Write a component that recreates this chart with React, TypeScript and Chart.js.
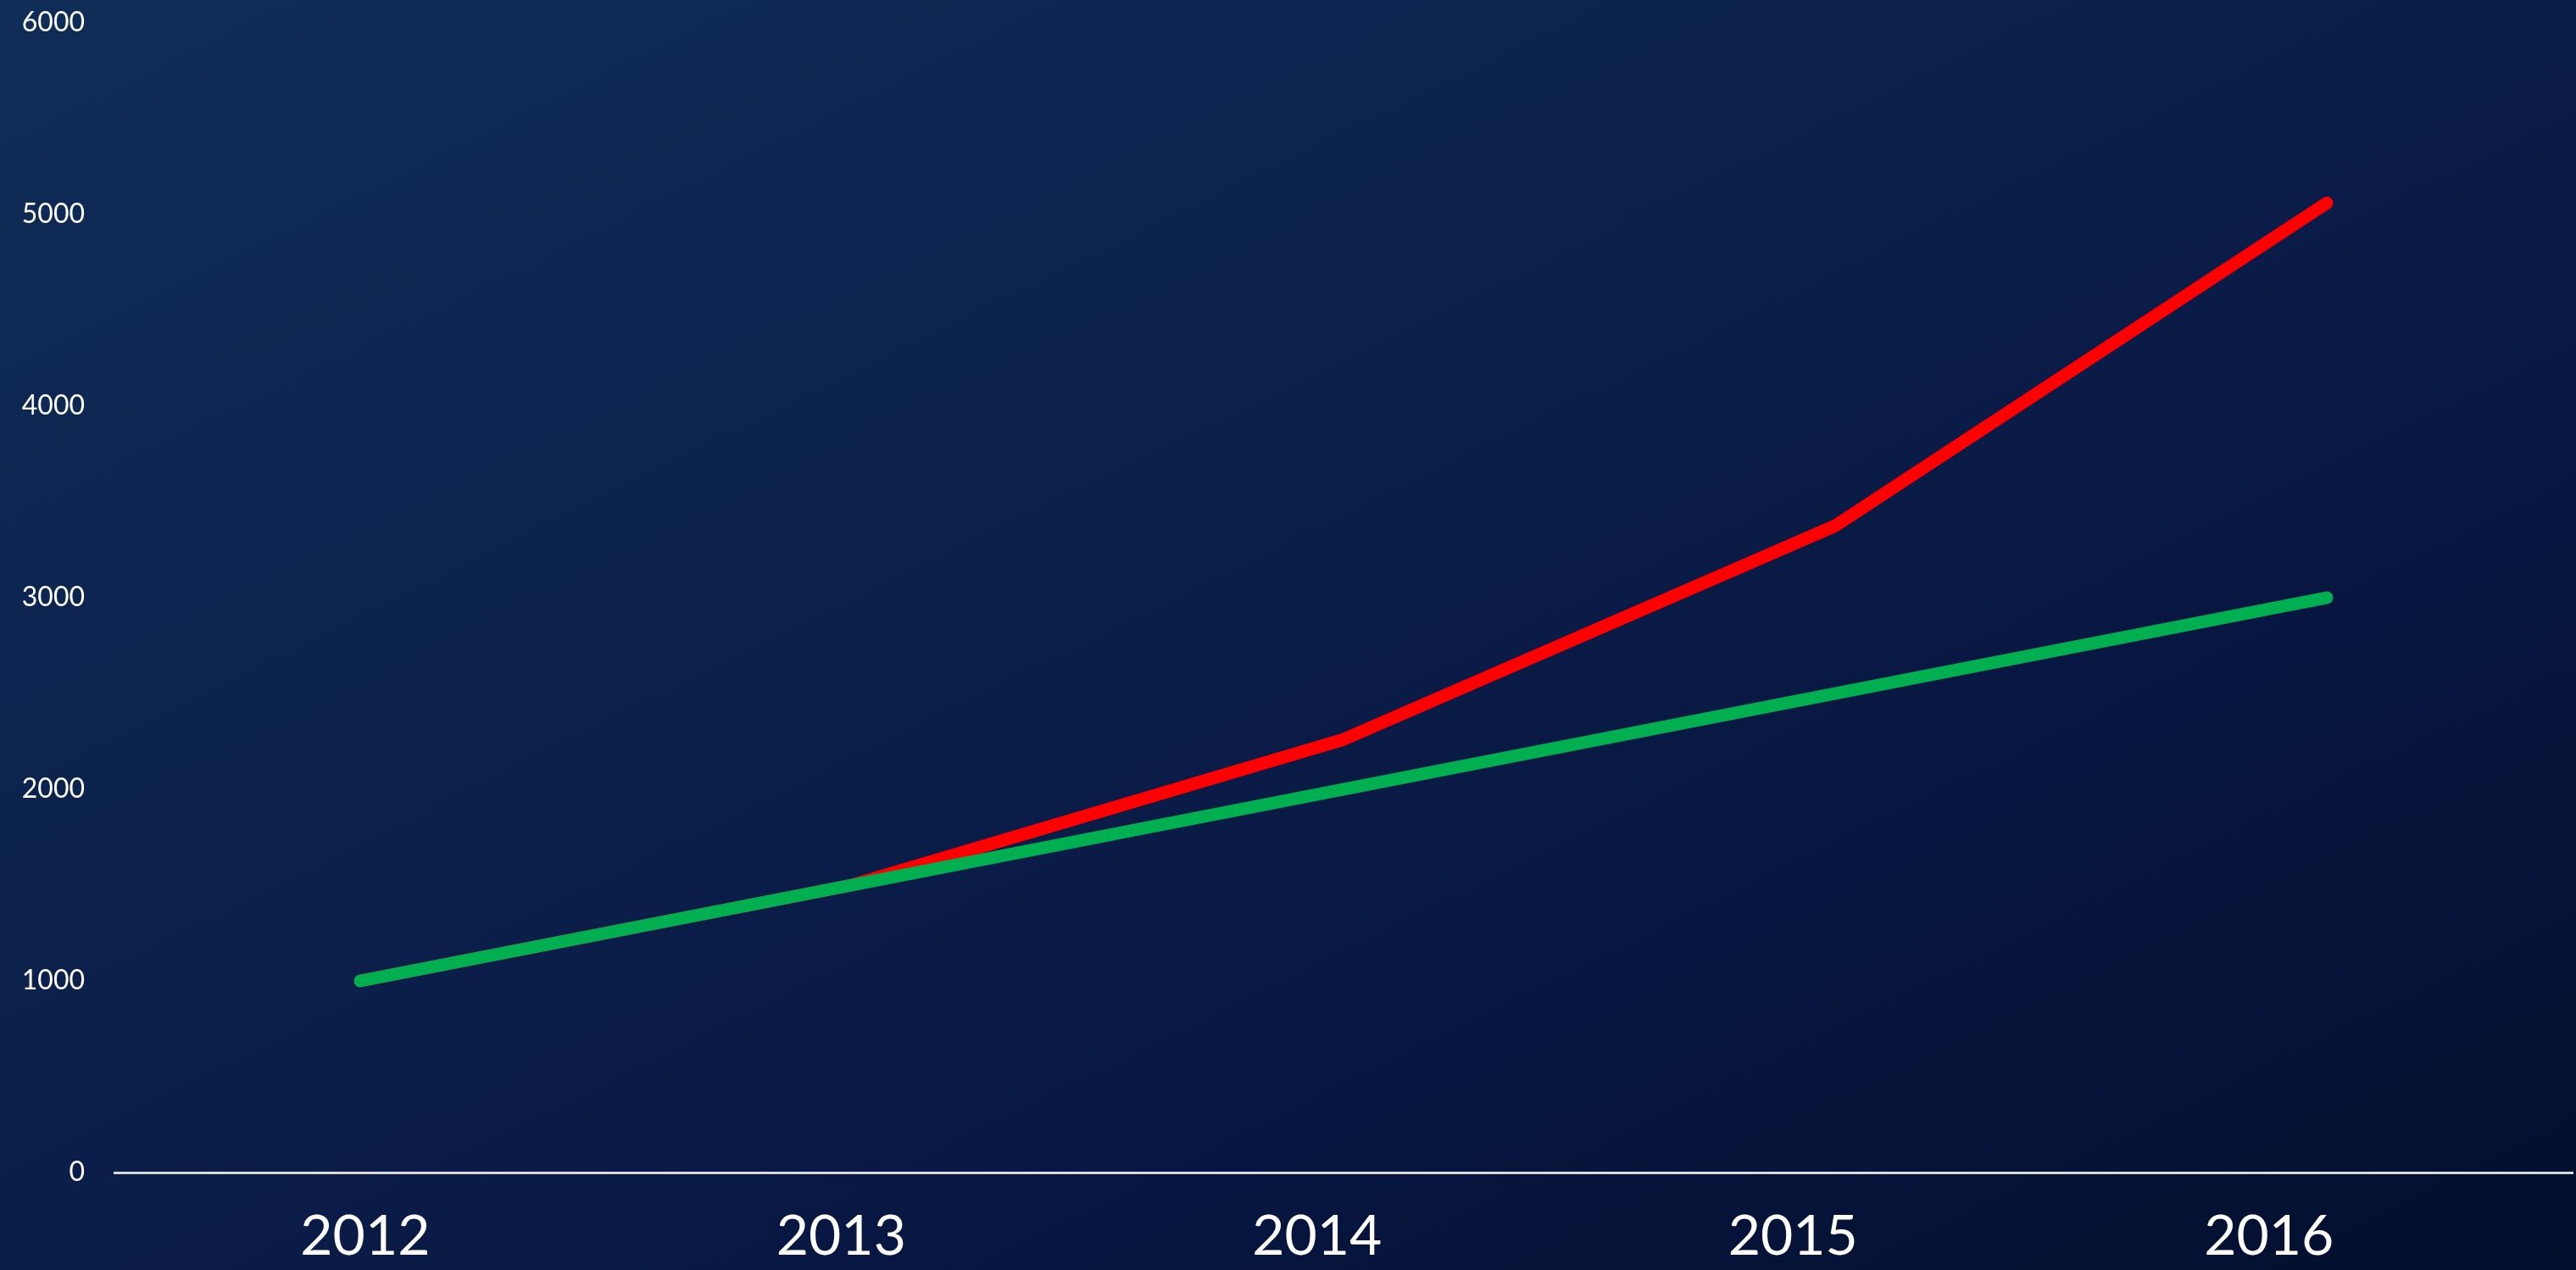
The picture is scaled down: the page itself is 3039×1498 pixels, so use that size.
import React, { useEffect, useRef } from "react";
import { Chart, registerables } from "chart.js";

Chart.register(...registerables);

// Data
const categories = ["2012", "2013", "2014", "2015", "2016"];
const yearTicks = [2012, 2013, 2014, 2015, 2016];
const greenValues = [1000, 1500, 2000, 2500, 3000];
const redValues = [1000, 1500, 2260, 3375, 5060];
const yTicks = [0, 1000, 2000, 3000, 4000, 5000, 6000];

export default function App() {
  const ref = useRef<HTMLCanvasElement>(null);

  useEffect(() => {
    if (!ref.current) return;
    const chart = new Chart(ref.current, {
      type: "line",
      data: {
        labels: categories,
        datasets: [
          {
            label: "Green",
            data: greenValues,
            borderColor: "#00B050",
            backgroundColor: "#00B050",
            borderWidth: 15,
            borderCapStyle: "round",
            borderJoinStyle: "round",
            pointRadius: 0,
            tension: 0,
            order: 0,
            xAxisID: "x",
            yAxisID: "y",
          },
          {
            label: "Red",
            data: redValues,
            borderColor: "#FF0000",
            backgroundColor: "#FF0000",
            borderWidth: 15,
            borderCapStyle: "round",
            borderJoinStyle: "round",
            pointRadius: 0,
            tension: 0,
            order: 1,
            xAxisID: "x",
            yAxisID: "y",
          },
        ],
      },
      options: {
        animation: false,
        responsive: false,
        devicePixelRatio: 1,
        layout: { padding: { top: 0, right: 4, bottom: 0, left: 0 } },
        plugins: {
          legend: { display: false },
          tooltip: { enabled: false },
        },
        scales: {
          x: {
            type: "category",
            offset: true,
            display: false,
          },
          xl: {
            type: "linear",
            position: "bottom",
            min: 2011.473,
            max: 2016.638,
            afterBuildTicks: (s: any) => {
              s.ticks = yearTicks.map((v) => ({ value: v }));
            },
            afterFit: (s: any) => {
              s.height = 115;
              s.paddingLeft = 0;
              s.paddingRight = 0;
            },
            grid: { display: false, drawTicks: false },
            border: { display: true, color: "#d9d9d9", width: 3 },
            ticks: {
              color: "#ffffff",
              font: { family: "Lato", size: 66 },
              padding: 36,
              autoSkip: false,
              maxRotation: 0,
              callback: (v: any) => String(v),
            },
          },
          y: {
            type: "linear",
            position: "left",
            min: 0,
            max: 6000,
            afterBuildTicks: (s: any) => {
              s.ticks = yTicks.map((v) => ({ value: v }));
            },
            afterFit: (s: any) => {
              s.width = 135;
              s.paddingTop = 27;
              s.paddingBottom = 0;
            },
            grid: { display: false, drawTicks: false },
            border: { display: false },
            ticks: {
              color: "#ffffff",
              font: { family: "Lato", size: 32 },
              padding: 35,
              callback: (v: any) => String(v),
            },
          },
        },
      },
    } as any);
    return () => chart.destroy();
  }, []);

  return (
    <div
      style={{
        position: "fixed",
        left: 0,
        top: 0,
        width: 3039,
        height: 1498,
        background:
          "linear-gradient(to bottom right, #0f2d57 0%, #0b1f4a 45%, #071640 70%, #030f2d 100%)",
      }}
    >
      <canvas
        ref={ref}
        width={3039}
        height={1498}
        style={{ display: "block", width: 3039, height: 1498 }}
      />
    </div>
  );
}
